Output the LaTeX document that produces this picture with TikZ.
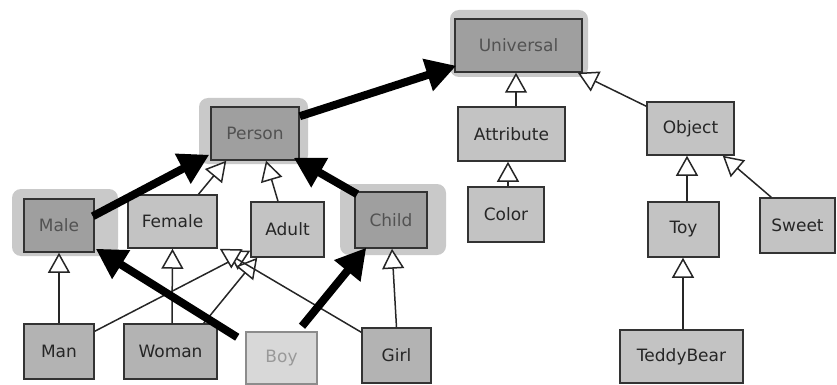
\documentclass[tikz,border=0pt]{standalone}
\usepackage{fontspec}
\setmainfont{DejaVu Sans}
\usetikzlibrary{arrows.meta,calc}
\definecolor{halocol}{HTML}{C9C9C9}
\definecolor{darkfill}{HTML}{9F9F9F}
\definecolor{midfill}{HTML}{B3B3B3}
\definecolor{lightfill}{HTML}{C3C3C3}
\definecolor{paleFill}{HTML}{D8D8D8}
\begin{document}
\begin{tikzpicture}[x=1pt,y=-1pt,
  box/.style={draw=black!80, line width=1.5pt, fill=lightfill, inner sep=0pt,
    font=\fontsize{17}{20}\selectfont, text=black!85},
  hi/.style={box, fill=darkfill, text=black!68},
  mid/.style={box, fill=midfill},
  pale/.style={box, fill=paleFill, draw=black!45, text=black!40},
  halo/.style={fill=halocol, rounded corners=9pt},
  inh/.style={-{Triangle[length=20pt,width=22pt,fill=white]}, line width=1.5pt, draw=black!85},
  strong/.style={-{Triangle[length=30pt,width=32pt]}, line width=8pt, draw=black},
]
\useasboundingbox (0,0) rectangle (837,385);
% halos
\fill[halo] (450,10) rectangle (588,77);
\fill[halo] (199,98) rectangle (308,164);
\fill[halo] (12,189) rectangle (118,256);
\fill[halo] (340,184) rectangle (446,255);
% nodes
\node[hi, minimum width=127pt, minimum height=53pt] (universal) at (518.5,45.5) {Universal};
\node[box, minimum width=107pt, minimum height=54pt] (attribute) at (511.5,134) {Attribute};
\node[box, minimum width=87pt, minimum height=53pt] (object) at (690.5,128.5) {Object};
\node[box, minimum width=76pt, minimum height=55pt] (color) at (506,214.5) {Color};
\node[box, minimum width=71pt, minimum height=55pt] (toy) at (683.5,229.5) {Toy};
\node[box, minimum width=75pt, minimum height=55pt] (sweet) at (797.5,225.5) {Sweet};
\node[box, minimum width=123pt, minimum height=53pt] (teddy) at (681.5,356.5) {TeddyBear};
\node[hi, minimum width=88pt, minimum height=53pt] (person) at (255,133.5) {Person};
\node[hi, minimum width=70pt, minimum height=53pt] (male) at (59,225.5) {Male};
\node[box, minimum width=89pt, minimum height=53pt] (female) at (172.5,221.5) {Female};
\node[box, minimum width=73pt, minimum height=55pt] (adult) at (287.5,229.5) {Adult};
\node[hi, minimum width=72pt, minimum height=56pt] (child) at (391,220) {Child};
\node[mid, minimum width=70pt, minimum height=55pt] (man) at (59,351.5) {Man};
\node[mid, minimum width=93pt, minimum height=55pt] (woman) at (170.5,351.5) {Woman};
\node[pale, minimum width=71pt, minimum height=52pt] (boy) at (281.5,358) {Boy};
\node[mid, minimum width=69pt, minimum height=55pt] (girl) at (396.5,355.5) {Girl};
% inheritance edges
\draw[inh] ($(attribute.north)+(4.5,0)$) -- ($(universal.south)+(-2.5,0)$);
\draw[inh] ($(object.north west)+(0,5)$) -- ($(universal.south east)+(-5,0)$);
\draw[inh] ($(color.north)+(2,0)$) -- ($(attribute.south)+(-3.5,0)$);
\draw[inh] ($(toy.north)+(3.5,0)$) -- ($(object.south)+(-3.5,0)$);
\draw[inh] ($(sweet.north west)+(12,0)$) -- ($(object.south east)+(-12,0)$);
\draw[inh] ($(teddy.north)+(1.5,0)$) -- ($(toy.south)+(-0.5,0)$);
\draw[inh] ($(female.north)+(26,0)$) -- ($(person.south west)+(16,0)$);
\draw[inh] ($(adult.north)+(-9.5,0)$) -- ($(person.south)+(11,0)$);
\draw[inh] (man.north) -- (male.south);
\draw[inh] ($(woman.north)+(1.5,0)$) -- (female.south);
\draw[inh] (girl.north) -- ($(child.south)+(1,0)$);
\draw[inh] ($(man.north east)+(0,8)$) -- ($(adult.south west)+(0,-7)$);
\draw[inh] ($(woman.north east)+(-14,0)$) -- ($(adult.south west)+(7,0)$);
\draw[inh] ($(girl.north west)+(0,5)$) -- ($(female.south east)+(2,0)$);
% strong edges
\draw[strong] ($(person.north east)+(0,10)$) -- ($(universal.south west)+(2,-7)$);
\draw[strong] ($(male.north east)+(-2,18)$) -- ($(person.south west)+(-1,-6)$);
\draw[strong] ($(child.north west)+(3,3)$) -- ($(person.south east)+(-6,-3)$);
\draw[strong] ($(boy.north west)+(-8,6)$) -- ($(male.south east)+(1,-4)$);
\draw[strong] ($(boy.north)+(20.5,-5)$) -- ($(child.south west)+(12,-1)$);
\end{tikzpicture}
\end{document}
